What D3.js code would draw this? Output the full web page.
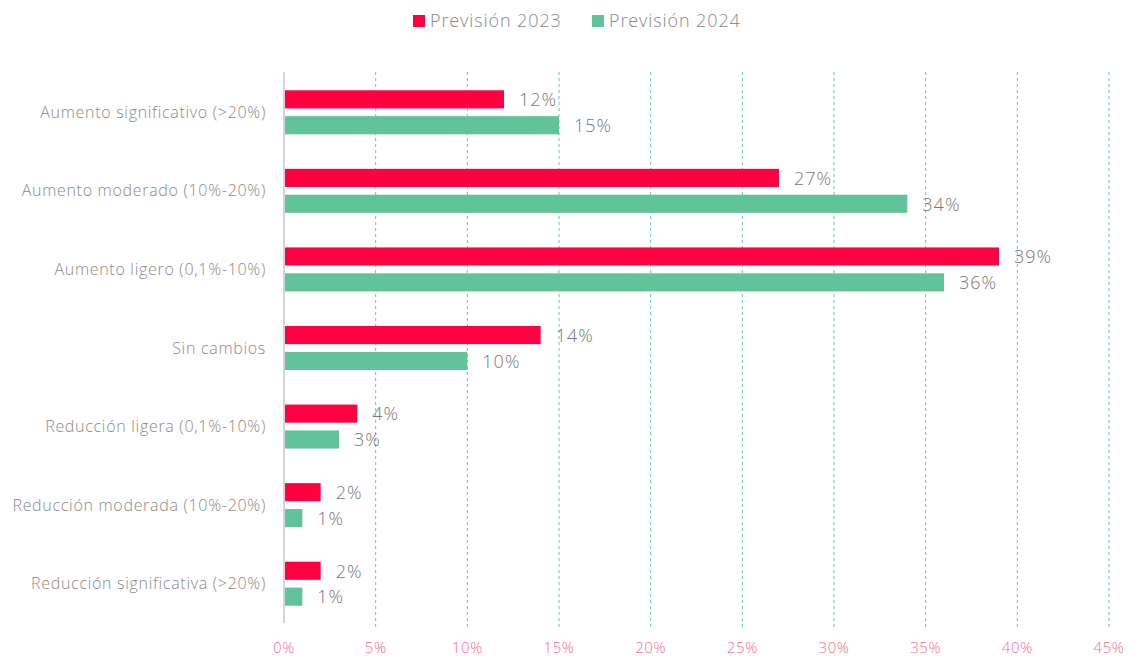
<!DOCTYPE html>
<html>
<head>
<meta charset="utf-8">
<title>Previsión</title>
<script src="https://d3js.org/d3.v7.min.js"></script>
<style>
body { margin: 0; background: #fff; }
text { font-family: "Open Sans", Lato, sans-serif; font-weight: 300; }
</style>
</head>
<body>
<script type="text/javascript">

var categories = [
  "Aumento significativo (>20%)",
  "Aumento moderado (10%-20%)",
  "Aumento ligero (0,1%-10%)",
  "Sin cambios",
  "Reducción ligera (0,1%-10%)",
  "Reducción moderada (10%-20%)",
  "Reducción significativa (>20%)"
];
var series = ["Previsión 2023", "Previsión 2024"];
var values2023 = [12, 27, 39, 14, 4, 2, 2];
var values2024 = [15, 34, 36, 10, 3, 1, 1];
var ticks = [0, 5, 10, 15, 20, 25, 30, 35, 40, 45];
var colors = ["#ff0040", "#61c399"];

var width = 1135, height = 656;
var margin = { left: 284, right: 26, top: 73, bottom: 33 };

var svg = d3.select("body").append("svg")
    .attr("width", width)
    .attr("height", height);

var x = d3.scaleLinear().domain([0, 45]).range([margin.left, width - margin.right]);
var y = d3.scaleBand().domain(categories).range([margin.top, height - margin.bottom])
    .paddingInner(0.44).paddingOuter(0.22);
var y1 = d3.scaleBand().domain(series).range([0, y.bandwidth()]).paddingInner(0.3);

// grid
svg.append("g").selectAll("line")
    .data(ticks.filter(d => d > 0))
    .enter().append("line")
    .attr("x1", d => x(d)).attr("x2", d => x(d))
    .attr("y1", 72).attr("y2", height - margin.bottom + 4)
    .attr("stroke", "#6cc7a3")
    .attr("stroke-width", 1)
    .attr("stroke-dasharray", "3,3");

// axis line at 0
svg.append("line")
    .attr("x1", x(0)).attr("x2", x(0))
    .attr("y1", 72).attr("y2", height - margin.bottom)
    .attr("stroke", "#d4d4d4")
    .attr("stroke-width", 2);

// tick labels
svg.append("g").selectAll("text")
    .data(ticks)
    .enter().append("text")
    .attr("x", d => x(d))
    .attr("y", 648)
    .attr("dy", "0.35em")
    .attr("text-anchor", "middle")
    .style("font-size", "15px")
    .style("letter-spacing", "0.6px")
    .style("fill", "#f4708f")
    .text(d => d + "%");

// category labels
svg.append("g").selectAll("text")
    .data(categories)
    .enter().append("text")
    .attr("x", 266)
    .attr("y", d => y(d) + y.bandwidth() / 2)
    .attr("dy", "0.35em")
    .attr("text-anchor", "end")
    .style("font-size", "16px")
    .style("letter-spacing", "0.7px")
    .style("fill", "#8a8a8a")
    .text(d => d);

var rows = [];
categories.forEach(function(c, i) {
  rows.push({ cat: c, s: series[0], v: values2023[i], col: colors[0] });
  rows.push({ cat: c, s: series[1], v: values2024[i], col: colors[1] });
});

svg.append("g").selectAll("rect")
    .data(rows)
    .enter().append("rect")
    .attr("x", x(0) + 1)
    .attr("y", d => y(d.cat) + y1(d.s))
    .attr("width", d => x(d.v) - x(0) - 1)
    .attr("height", y1.bandwidth())
    .attr("fill", d => d.col);

svg.append("g").selectAll("text")
    .data(rows)
    .enter().append("text")
    .attr("x", d => x(d.v) + 15)
    .attr("y", d => y(d.cat) + y1(d.s) + y1.bandwidth() / 2)
    .attr("dy", "0.38em")
    .style("font-size", "18px")
    .style("letter-spacing", "1px")
    .style("fill", "#777")
    .text(d => d.v + "%");

// legend
var legend = svg.append("g");
var lx = [413, 592];
series.forEach(function(s, i) {
  legend.append("rect")
    .attr("x", lx[i]).attr("y", 15)
    .attr("width", 12).attr("height", 12)
    .attr("fill", colors[i]);
  legend.append("text")
    .attr("x", lx[i] + 17).attr("y", 21)
    .attr("dy", "0.36em")
    .style("font-size", "18px")
    .style("letter-spacing", "0.9px")
    .style("fill", "#8a8a8a")
    .text(s);
});

</script>
</body>
</html>
